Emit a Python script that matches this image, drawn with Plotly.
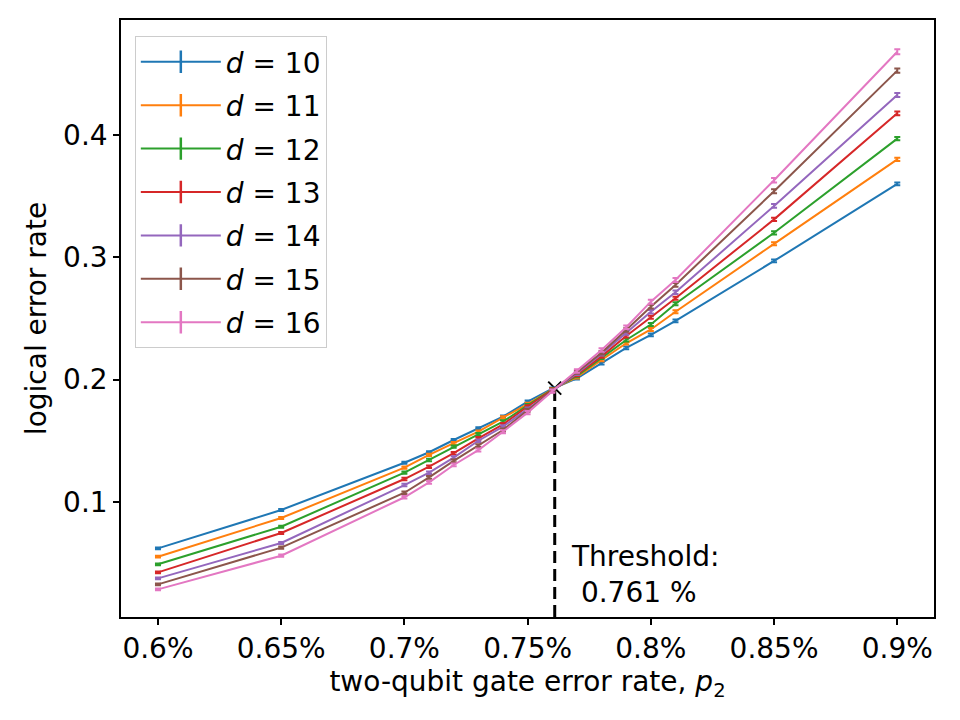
import plotly.graph_objects as go

p2 = [0.60, 0.65, 0.70, 0.71, 0.72, 0.73, 0.74, 0.75, 0.76, 0.77, 0.78, 0.79, 0.80, 0.81, 0.85, 0.90]
tick_vals = [0.60, 0.65, 0.70, 0.75, 0.80, 0.85, 0.90]
tick_text = ["0.6%", "0.65%", "0.7%", "0.75%", "0.8%", "0.85%", "0.9%"]
y_tick_vals = [0.1, 0.2, 0.3, 0.4]
y_tick_text = ["0.1", "0.2", "0.3", "0.4"]
distances = [10, 11, 12, 13, 14, 15, 16]

ler_d10 = [0.0620, 0.0934, 0.1320, 0.1406, 0.1506, 0.1602, 0.1697, 0.1820, 0.1925, 0.2010, 0.2133, 0.2260, 0.2365, 0.2480, 0.2970, 0.3600]
ler_d11 = [0.0552, 0.0868, 0.1280, 0.1384, 0.1480, 0.1574, 0.1690, 0.1800, 0.1920, 0.2020, 0.2160, 0.2297, 0.2410, 0.2555, 0.3110, 0.3800]
ler_d12 = [0.0490, 0.0797, 0.1240, 0.1343, 0.1452, 0.1553, 0.1656, 0.1790, 0.1918, 0.2030, 0.2180, 0.2324, 0.2450, 0.2620, 0.3200, 0.3970]
ler_d13 = [0.0424, 0.0746, 0.1187, 0.1288, 0.1398, 0.1520, 0.1634, 0.1780, 0.1915, 0.2040, 0.2190, 0.2357, 0.2510, 0.2665, 0.3310, 0.4177]
ler_d14 = [0.0375, 0.0664, 0.1138, 0.1239, 0.1362, 0.1500, 0.1615, 0.1760, 0.1912, 0.2050, 0.2210, 0.2380, 0.2555, 0.2714, 0.3420, 0.4327]
ler_d15 = [0.0326, 0.0626, 0.1075, 0.1200, 0.1335, 0.1460, 0.1588, 0.1750, 0.1910, 0.2060, 0.2220, 0.2406, 0.2596, 0.2774, 0.3540, 0.4526]
ler_d16 = [0.0285, 0.0560, 0.1038, 0.1160, 0.1302, 0.1424, 0.1574, 0.1730, 0.1905, 0.2070, 0.2242, 0.2428, 0.2637, 0.2814, 0.3630, 0.4680]

err_d10 = [0.0007, 0.0008, 0.0009, 0.0009, 0.0009, 0.0009, 0.0010, 0.0010, 0.0010, 0.0010, 0.0010, 0.0011, 0.0011, 0.0011, 0.0011, 0.0012]
err_d11 = [0.0007, 0.0008, 0.0009, 0.0009, 0.0010, 0.0010, 0.0010, 0.0010, 0.0011, 0.0011, 0.0011, 0.0011, 0.0012, 0.0012, 0.0012, 0.0013]
err_d12 = [0.0007, 0.0008, 0.0009, 0.0010, 0.0010, 0.0010, 0.0011, 0.0011, 0.0011, 0.0011, 0.0012, 0.0012, 0.0012, 0.0013, 0.0013, 0.0014]
err_d13 = [0.0007, 0.0008, 0.0010, 0.0010, 0.0010, 0.0011, 0.0011, 0.0011, 0.0012, 0.0012, 0.0012, 0.0013, 0.0013, 0.0013, 0.0014, 0.0015]
err_d14 = [0.0007, 0.0009, 0.0010, 0.0010, 0.0011, 0.0011, 0.0011, 0.0012, 0.0012, 0.0013, 0.0013, 0.0013, 0.0014, 0.0014, 0.0015, 0.0016]
err_d15 = [0.0007, 0.0009, 0.0010, 0.0011, 0.0011, 0.0011, 0.0012, 0.0012, 0.0013, 0.0013, 0.0014, 0.0014, 0.0015, 0.0015, 0.0016, 0.0018]
err_d16 = [0.0008, 0.0009, 0.0011, 0.0011, 0.0011, 0.0012, 0.0012, 0.0013, 0.0013, 0.0014, 0.0014, 0.0015, 0.0016, 0.0016, 0.0018, 0.0020]

threshold = 0.761
threshold_ler = 0.193
x_range = [0.5850, 0.9149]
y_range = [0.0059, 0.4940]

series = [ler_d10, ler_d11, ler_d12, ler_d13, ler_d14, ler_d15, ler_d16]
errors = [err_d10, err_d11, err_d12, err_d13, err_d14, err_d15, err_d16]
colors = ["#1f77b4", "#ff7f0e", "#2ca02c", "#d62728", "#9467bd", "#8c564b", "#e377c2"]

FONT = "DejaVu Sans"
FS = 28

fig = go.Figure()

# threshold marker and dashed line (drawn beneath the curves)
fig.add_trace(go.Scatter(
    x=[threshold, threshold], y=[y_range[0], threshold_ler], mode="lines",
    line=dict(color="black", width=3, dash="12px,6px"), showlegend=False,
    hoverinfo="skip"))
fig.add_trace(go.Scatter(
    x=[threshold], y=[threshold_ler], mode="markers",
    marker=dict(symbol="x-thin", size=13, line=dict(color="black", width=2)),
    showlegend=False, hoverinfo="skip"))

for d, ys, es, c in zip(distances, series, errors, colors):
    fig.add_trace(go.Scatter(
        x=p2, y=ys, mode="lines",
        line=dict(color=c, width=2),
        error_y=dict(type="data", array=es, visible=True, color=c, thickness=2, width=3),
        name=f"<i>d</i> = {d}", legendgroup=str(d), showlegend=False))
    # legend entry: line with a vertical error-bar glyph
    fig.add_trace(go.Scatter(
        x=[None], y=[None], mode="lines+markers",
        line=dict(color=c, width=2),
        marker=dict(symbol="line-ns-open", size=22, color=c, line=dict(color=c, width=2.5)),
        name=f"<i>d</i> = {d}", legendgroup=str(d), showlegend=True))

fig.add_annotation(
    x=0.7667, y=0.041, xref="x", yref="y", xanchor="left", yanchor="middle",
    text="Threshold:<br>\u00a00.761 %", showarrow=False, align="left",
    font=dict(family=FONT, size=FS, color="black"))

fig.update_layout(
    width=960, height=720,
    margin=dict(l=121, r=26, t=20, b=103),
    plot_bgcolor="white", paper_bgcolor="white",
    font=dict(family=FONT, size=FS, color="black"),
    showlegend=True,
    legend=dict(
        x=0.017, y=0.973, xanchor="left", yanchor="top",
        bgcolor="rgba(255,255,255,0.8)", bordercolor="#cccccc", borderwidth=1,
        font=dict(family=FONT, size=FS, color="black"),
        tracegroupgap=4, itemwidth=80),
    xaxis=dict(
        range=x_range, tickvals=tick_vals, ticktext=tick_text,
        showgrid=False, zeroline=False, showline=True, linecolor="black",
        linewidth=1.5, mirror=True, ticks="outside", ticklen=6, tickwidth=1.5,
        tickcolor="black", tickfont=dict(family=FONT, size=FS),
        title=dict(text="two-qubit gate error rate, <i>p</i><sub>2</sub>",
                   font=dict(family=FONT, size=FS), standoff=6)),
    yaxis=dict(
        range=y_range, tickvals=y_tick_vals, ticktext=y_tick_text,
        showgrid=False, zeroline=False, showline=True, linecolor="black",
        linewidth=1.5, mirror=True, ticks="outside", ticklen=6, tickwidth=1.5,
        tickcolor="black", tickfont=dict(family=FONT, size=FS),
        title=dict(text="logical error rate", font=dict(family=FONT, size=FS), standoff=8)),
)

fig.write_html("out.html")
